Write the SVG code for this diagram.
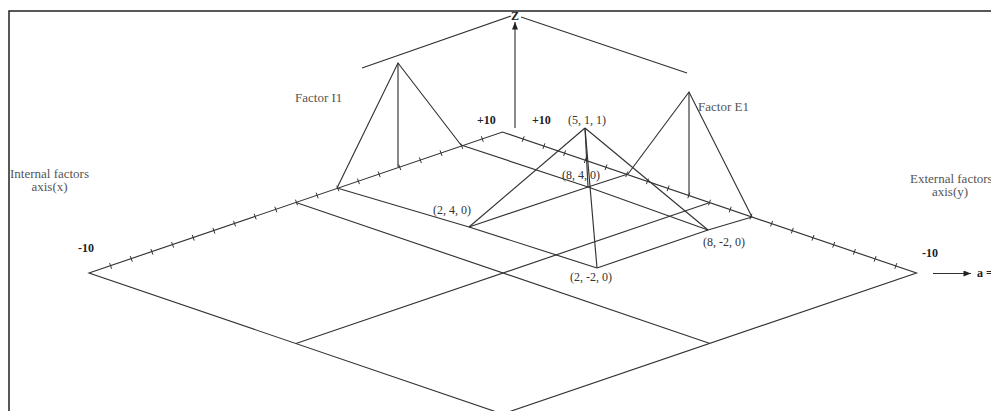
<svg xmlns="http://www.w3.org/2000/svg" width="991" height="411" viewBox="0 0 991 411">
<defs>
<marker id="arr" viewBox="0 0 10 8" refX="10" refY="4" markerWidth="8" markerHeight="6" markerUnits="userSpaceOnUse" orient="auto">
<path d="M0 0 L10 4 L0 8 Z" fill="#222"/>
</marker>
</defs>
<style>
.ln{stroke:#333;stroke-width:1.15;fill:none}
.tk{stroke:#333;stroke-width:1;fill:none}
.lab{font-family:"Liberation Serif","Times New Roman",serif;font-size:12px;fill:#333}
.fac{font-family:"Liberation Serif","Times New Roman",serif;font-size:13px;fill:#555}
.num{font-family:"Liberation Serif","Times New Roman",serif;font-size:12px;font-weight:bold;fill:#222}
</style>
<rect width="991" height="411" fill="#fff"/>
<path d="M9 411 V11 H991" stroke="#222" stroke-width="1.5" fill="none"/>

<g id="grid">
<polygon class="ln" points="89,273 502.5,132 916.5,273 502.5,414"/>
<line class="ln" x1="296" y1="202.5" x2="710" y2="343.5"/>
<line class="ln" x1="296" y1="343.5" x2="710" y2="202.5"/>
<polyline class="ln" points="337,188 469,227 597,268"/>
<polyline class="ln" points="461,145 588,187 708,230"/>
<polyline class="ln" points="628,174 588,187 469,227"/>
<polyline class="ln" points="752,217 708,230 597,268"/>
<path class="tk" d="M109.65 263.15 l2 5.6 m18.65 -12.65 l2 5.6 m18.65 -12.65 l2 5.6 m18.65 -12.65 l2 5.6 m18.65 -12.65 l2 5.6 m18.65 -12.65 l2 5.6 m18.65 -12.65 l2 5.6 m18.65 -12.65 l2 5.6 m18.65 -12.65 l2 5.6 m18.65 -12.65 l2 5.6 m18.65 -12.65 l2 5.6 m18.65 -12.65 l2 5.6 m18.65 -12.65 l2 5.6 m18.65 -12.65 l2 5.6 m18.65 -12.65 l2 5.6 m18.65 -12.65 l2 5.6 m18.65 -12.65 l2 5.6 m18.65 -12.65 l2 5.6 m18.65 -12.65 l2 5.6"/>
<path class="tk" d="M524.2 136.25 l-2 5.6 m22.7 1.45 l-2 5.6 m22.7 1.45 l-2 5.6 m22.7 1.45 l-2 5.6 m22.7 1.45 l-2 5.6 m22.7 1.45 l-2 5.6 m22.7 1.45 l-2 5.6 m22.7 1.45 l-2 5.6 m22.7 1.45 l-2 5.6 m22.7 1.45 l-2 5.6 m22.7 1.45 l-2 5.6 m22.7 1.45 l-2 5.6 m22.7 1.45 l-2 5.6 m22.7 1.45 l-2 5.6 m22.7 1.45 l-2 5.6 m22.7 1.45 l-2 5.6 m22.7 1.45 l-2 5.6 m22.7 1.45 l-2 5.6 m22.7 1.45 l-2 5.6"/>
</g>

<g id="z-axis">
<line class="ln" x1="515" y1="128" x2="515" y2="22" marker-end="url(#arr)"/>
<line class="ln" x1="362" y1="68" x2="511" y2="16"/>
<line class="ln" x1="521" y1="17" x2="687" y2="73"/>
<text class="num" x="515" y="20" text-anchor="middle" font-size="11">Z</text>
</g>

<g id="factor-i1">
<polyline class="ln" points="337,188 398,63 461,145"/>
<line class="ln" x1="398" y1="63" x2="398" y2="167"/>
<text class="fac" x="295" y="102">Factor I1</text>
</g>

<g id="factor-e1">
<polyline class="ln" points="628,174 689,92 752,217"/>
<line class="ln" x1="689" y1="92" x2="689" y2="195"/>
<text class="fac" x="698" y="110.5">Factor E1</text>
</g>

<g id="pyramid-511">
<line class="ln" x1="585" y1="128" x2="469" y2="227"/>
<line class="ln" x1="585" y1="128" x2="588" y2="187"/>
<line class="ln" x1="585" y1="128" x2="708" y2="230"/>
<line class="ln" x1="585" y1="128" x2="597" y2="268"/>
<text class="lab" x="568" y="123.5">(5, 1, 1)</text>
<text class="lab" x="562" y="179">(8, 4, 0)</text>
<text class="lab" x="433" y="214">(2, 4, 0)</text>
<text class="lab" x="703" y="245.5">(8, -2, 0)</text>
<text class="lab" x="570" y="280.5">(2, -2, 0)</text>
</g>

<g id="axis-labels">
<text class="fac" x="49.5" y="177.5" text-anchor="middle">Internal factors</text>
<text class="fac" x="49.5" y="191" text-anchor="middle">axis(x)</text>
<text class="fac" x="910" y="182.5" font-size="12.5">External factors</text>
<text class="fac" x="950" y="196" text-anchor="middle">axis(y)</text>
<text class="num" x="78" y="252">-10</text>
<text class="num" x="922" y="257">-10</text>
<text class="num" x="477" y="123.5">+10</text>
<text class="num" x="532" y="124">+10</text>
</g>

<g id="a-arrow">
<line class="ln" x1="933" y1="273.5" x2="971" y2="273.5" marker-end="url(#arr)"/>
<text class="num" x="977" y="277">a =</text>
</g>
</svg>
